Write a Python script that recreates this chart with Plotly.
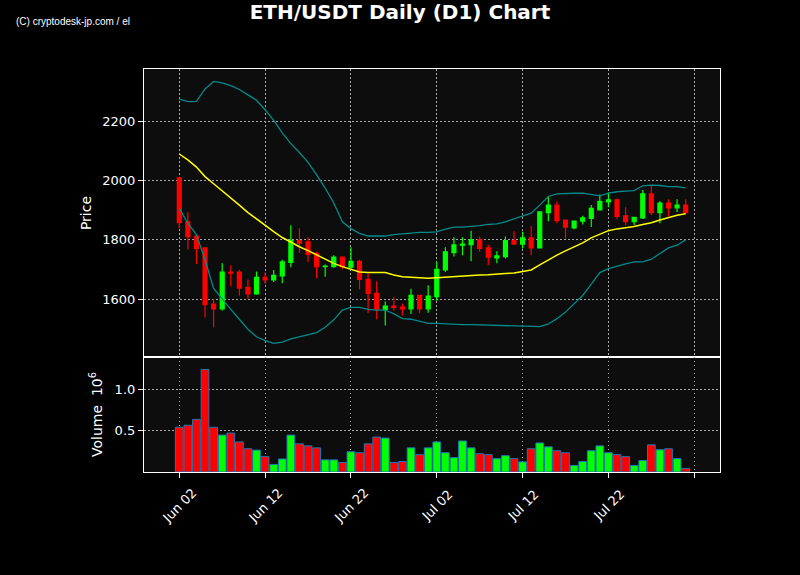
import pandas as pd
import plotly.graph_objects as go

# daily candles, 2023-06-02 .. 2023-07-31
dates = pd.date_range("2023-06-02", periods=60, freq="D")

opens = [2009, 1861, 1813, 1773, 1584, 1568, 1692, 1692, 1640, 1618,
         1674, 1665, 1679, 1724, 1798, 1793, 1755, 1710, 1710, 1742,
         1708, 1728, 1667, 1620, 1566, 1577, 1574, 1568, 1613, 1568,
         1609, 1699, 1757, 1782, 1784, 1800, 1773, 1739, 1744, 1798,
         1786, 1807, 1773, 1892, 1917, 1867, 1840, 1863, 1872, 1901,
         1928, 1935, 1881, 1861, 1874, 1955, 1892, 1924, 1908, 1917]
highs = [2010, 1893, 1815, 1775, 1600, 1721, 1715, 1699, 1667, 1694,
         1690, 1699, 1733, 1849, 1839, 1809, 1760, 1717, 1748, 1744,
         1775, 1733, 1688, 1661, 1593, 1609, 1586, 1636, 1615, 1647,
         1726, 1775, 1809, 1809, 1831, 1811, 1784, 1762, 1811, 1829,
         1827, 1847, 1896, 1946, 1930, 1869, 1865, 1881, 1917, 1953,
         1960, 1939, 1910, 1878, 1968, 1982, 1930, 1937, 1937, 1937]
lows = [1839, 1768, 1719, 1539, 1506, 1562, 1643, 1613, 1602, 1615,
        1652, 1658, 1654, 1708, 1757, 1726, 1671, 1676, 1706, 1701,
        1703, 1634, 1553, 1533, 1512, 1562, 1546, 1551, 1553, 1555,
        1595, 1692, 1744, 1748, 1728, 1760, 1715, 1721, 1737, 1784,
        1771, 1748, 1771, 1863, 1856, 1804, 1836, 1852, 1843, 1899,
        1910, 1870, 1849, 1849, 1870, 1883, 1856, 1879, 1894, 1888]
closes = [1858, 1811, 1771, 1582, 1568, 1692, 1688, 1638, 1618, 1674,
          1665, 1681, 1726, 1798, 1789, 1751, 1710, 1712, 1742, 1710,
          1728, 1667, 1620, 1566, 1577, 1573, 1568, 1613, 1568, 1611,
          1701, 1760, 1783, 1786, 1800, 1771, 1742, 1746, 1798, 1786,
          1807, 1773, 1894, 1917, 1865, 1843, 1863, 1874, 1906, 1930,
          1935, 1879, 1861, 1876, 1955, 1892, 1924, 1908, 1917, 1892]

# volume in millions
volumes = [0.539, 0.563, 0.634, 1.236, 0.539, 0.445, 0.469, 0.362, 0.280, 0.264,
           0.185, 0.091, 0.157, 0.445, 0.339, 0.315, 0.291, 0.146, 0.146, 0.114,
           0.244, 0.232, 0.339, 0.421, 0.409, 0.114, 0.126, 0.291, 0.209, 0.291,
           0.362, 0.232, 0.173, 0.374, 0.291, 0.220, 0.209, 0.161, 0.197, 0.161,
           0.122, 0.280, 0.350, 0.303, 0.256, 0.232, 0.079, 0.126, 0.256, 0.315,
           0.232, 0.209, 0.185, 0.079, 0.138, 0.327, 0.268, 0.280, 0.161, 0.043]

# 20-day SMA and bollinger bands
ma20 = [2089, 2069, 2045, 2013, 1989, 1966, 1940, 1917, 1892, 1870,
        1849, 1828, 1808, 1792, 1777, 1764, 1749, 1735, 1721, 1710,
        1701, 1692, 1690, 1690, 1690, 1682, 1676, 1674, 1672, 1671,
        1673, 1675, 1678, 1679, 1680, 1682, 1683, 1684, 1687, 1689,
        1693, 1699, 1716, 1733, 1749, 1763, 1776, 1790, 1807, 1820,
        1831, 1837, 1840, 1845, 1852, 1858, 1867, 1876, 1883, 1888]
bb_upper = [2274, 2265, 2266, 2308, 2333, 2328, 2319, 2306, 2288, 2270,
            2238, 2202, 2160, 2124, 2094, 2061, 2019, 1974, 1924, 1861,
            1838, 1822, 1813, 1813, 1813, 1818, 1821, 1822, 1825, 1825,
            1827, 1836, 1843, 1843, 1845, 1848, 1852, 1854, 1861, 1870,
            1881, 1890, 1917, 1946, 1955, 1957, 1957, 1957, 1952, 1948,
            1957, 1962, 1964, 1966, 1982, 1984, 1983, 1979, 1979, 1975]
bb_lower = [1906, 1856, 1817, 1733, 1637, 1600, 1566, 1533, 1499, 1474,
            1461, 1452, 1456, 1467, 1474, 1479, 1488, 1506, 1531, 1564,
            1573, 1573, 1566, 1564, 1564, 1551, 1535, 1533, 1526, 1519,
            1519, 1517, 1515, 1515, 1515, 1514, 1513, 1513, 1510, 1509,
            1508, 1508, 1508, 1517, 1535, 1557, 1586, 1613, 1651, 1690,
            1703, 1712, 1719, 1726, 1726, 1735, 1753, 1773, 1782, 1800]

tick_dates = ["2023-06-02", "2023-06-12", "2023-06-22", "2023-07-02",
              "2023-07-12", "2023-07-22", "2023-08-01"]
tick_labels = ["Jun 02", "Jun 12", "Jun 22", "Jul 02", "Jul 12", "Jul 22", ""]

UP = "#00ff00"
DOWN = "#ff0000"
BAND = "#008b8b"
FONT = "DejaVu Sans"

vol_colors = [UP if c >= o else DOWN for o, c in zip(opens, closes)]

fig = go.Figure()

fig.add_trace(go.Scatter(x=dates, y=bb_upper, mode="lines",
                         line=dict(color=BAND, width=1.3), hoverinfo="skip"))
fig.add_trace(go.Scatter(x=dates, y=bb_lower, mode="lines",
                         line=dict(color=BAND, width=1.3), hoverinfo="skip"))
fig.add_trace(go.Scatter(x=dates, y=ma20, mode="lines",
                         line=dict(color="#ffff00", width=1.5), hoverinfo="skip"))

fig.add_trace(go.Candlestick(
    x=dates, open=opens, high=highs, low=lows, close=closes,
    increasing=dict(line=dict(color=UP, width=1.2), fillcolor=UP),
    decreasing=dict(line=dict(color=DOWN, width=1.2), fillcolor=DOWN),
    whiskerwidth=0, xaxis="x", yaxis="y"))

fig.add_trace(go.Bar(
    x=dates, y=volumes, width=0.9 * 86400000,
    marker=dict(color=vol_colors, line=dict(color="#1f77b4", width=1)),
    xaxis="x2", yaxis="y2"))

axis_common = dict(
    showline=True, mirror=True, linecolor="white", linewidth=1.2,
    showgrid=True, gridcolor="#a8a8a8", griddash="1.5px,2.5px", gridwidth=1,
    zeroline=False, ticks="outside", ticklen=5, tickcolor="white",
    tickfont=dict(family=FONT, size=13, color="white"),
)

x_range = ["2023-05-28 21:20", "2023-08-04 00:00"]

# rotated date labels, centred under their ticks (matplotlib style)
date_notes = [dict(text=lab, x=d, xref="x2", yref="paper", y=-0.082,
                   xanchor="center", yanchor="middle", textangle=-45,
                   showarrow=False, font=dict(family=FONT, size=13, color="white"))
              for d, lab in zip(tick_dates, tick_labels) if lab]

fig.update_layout(
    width=800, height=575,
    paper_bgcolor="black", plot_bgcolor="#0d0d0d",
    margin=dict(l=144, r=80, t=69, b=103),
    showlegend=False, boxgap=0.34,
    title=dict(text="<b>ETH/USDT Daily (D1) Chart</b>", x=0.5, xanchor="center",
               y=0.979, yanchor="middle",
               font=dict(family=FONT, size=20, color="white")),
    xaxis=dict(axis_common, domain=[0, 1], range=x_range, anchor="y",
               tickvals=tick_dates, showticklabels=False,
               ticks="", rangeslider=dict(visible=False)),
    yaxis=dict(axis_common, domain=[0.2854, 1], range=[1406, 2375],
               tickvals=[1600, 1800, 2000, 2200], anchor="x",
               ticklabelstandoff=0,
               title=dict(text="Price", standoff=7,
                          font=dict(family=FONT, size=14, color="white"))),
    xaxis2=dict(axis_common, domain=[0, 1], range=x_range, anchor="y2",
                matches="x", tickvals=tick_dates, showticklabels=False),
    yaxis2=dict(axis_common, domain=[0, 0.2854], range=[0, 1.386],
                tickvals=[0.5, 1.0], ticktext=["0.5", "1.0"], anchor="x2",
                ticklabelstandoff=0,
                title=dict(text="Volume  10<sup>6</sup>", standoff=8,
                           font=dict(family=FONT, size=14, color="white"))),
    annotations=date_notes + [
        dict(text="(C) cryptodesk-jp.com / el", xref="paper", yref="paper",
             x=-0.226, y=1.119, xanchor="left", yanchor="middle",
             showarrow=False,
             font=dict(family="Liberation Sans Narrow, Liberation Sans",
                       size=10, color="white"))],
)

fig.write_html("out.html", config={"displayModeBar": False},
               post_script="document.body.style.margin='0';"
                           "document.body.style.background='black';")
